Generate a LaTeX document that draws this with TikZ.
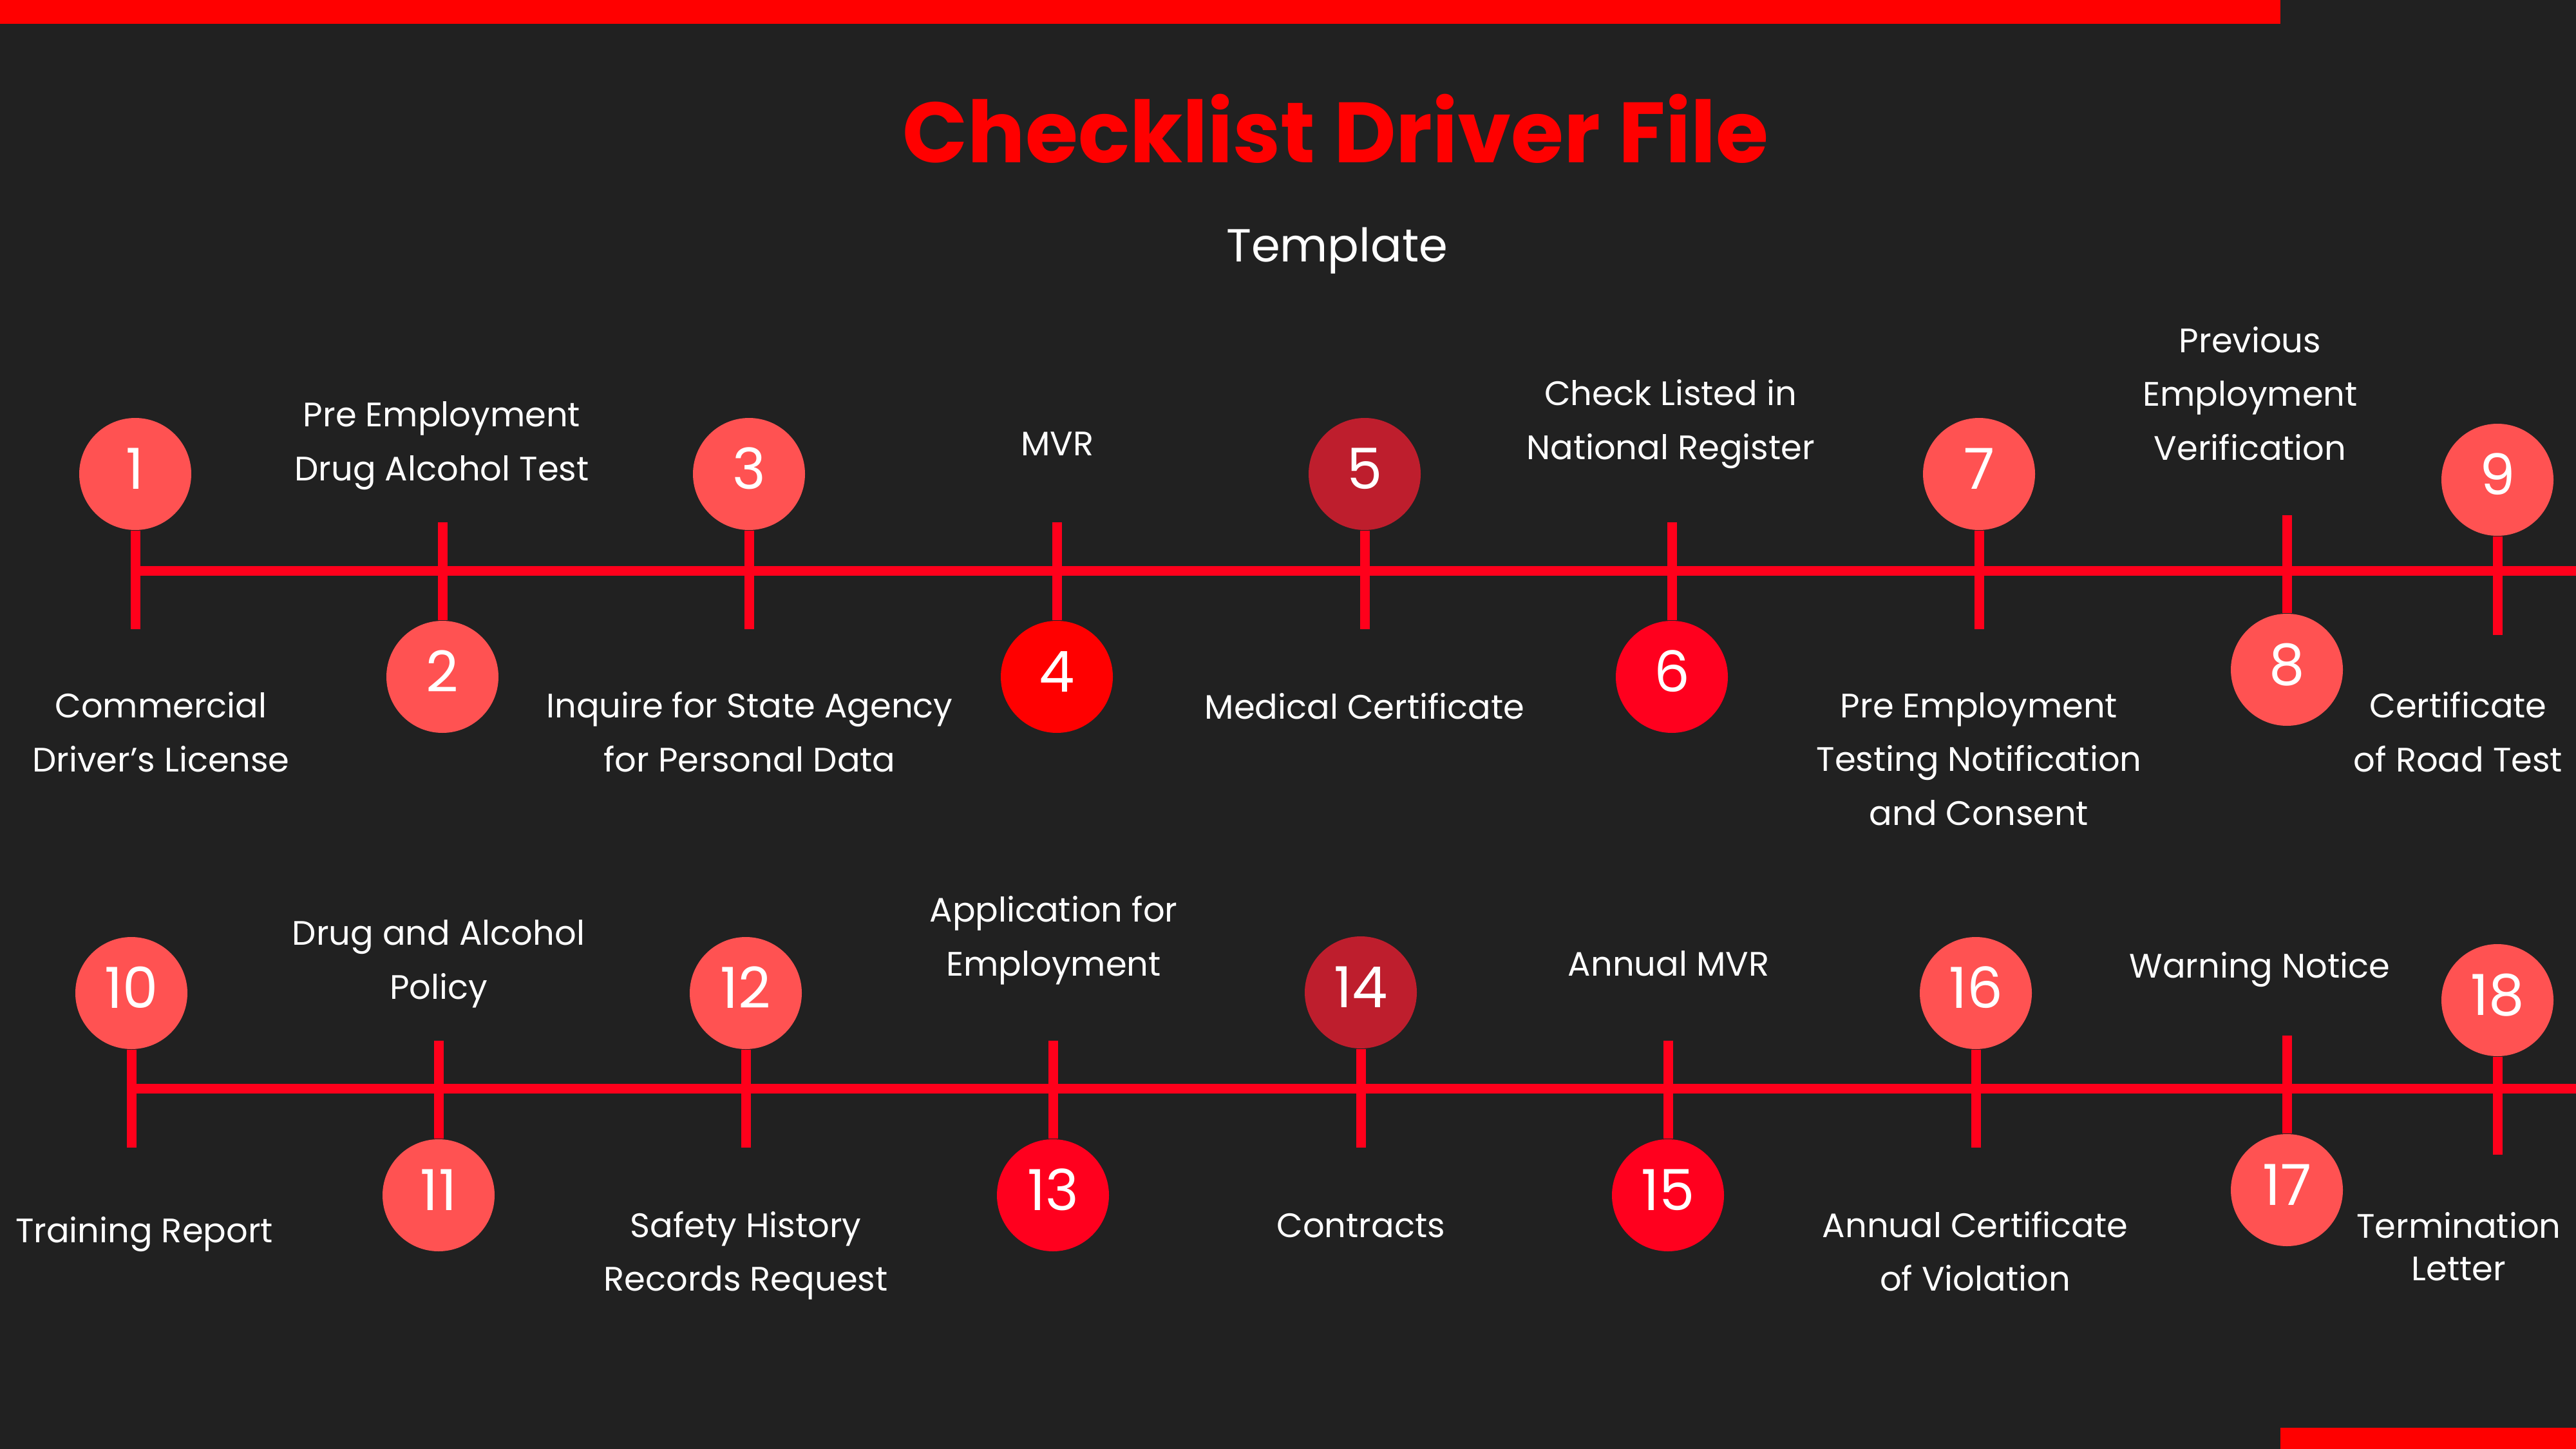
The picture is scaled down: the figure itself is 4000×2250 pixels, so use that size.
\documentclass[tikz,border=0pt]{standalone}
\usepackage{fontspec}
\setmainfont{Poppins}
\definecolor{bg}{HTML}{212121}
\definecolor{barred}{HTML}{FF0000}
\definecolor{lineRed}{HTML}{FF001B}
\definecolor{cLight}{HTML}{FF5252}
\definecolor{cDark}{HTML}{BE1E2D}
\definecolor{cPure}{HTML}{FF0000}
\definecolor{cVivid}{HTML}{FF001E}
\tikzset{
  dot/.style={circle, minimum size=17.4mm, inner sep=0pt, text=white,
    font=\fontsize{25pt}{30pt}\selectfont, text height=4.6mm, text depth=0pt},
  dotlight/.style={dot, fill=cLight},
  dotdark/.style={dot, fill=cDark},
  dotpure/.style={dot, fill=cPure},
  dotvivid/.style={dot, fill=cVivid},
  tickline/.style={draw=lineRed, line width=1.5mm},
  mainline/.style={draw=lineRed, line width=1.5mm},
  lbl/.style={anchor=base, align=center, text=white, inner sep=0pt,
    font=\fontsize{15pt}{23.62pt}\selectfont},
  lbltight/.style={lbl, font=\fontsize{15pt}{18.5pt}\selectfont},
}
\begin{document}
\begin{tikzpicture}[x=0.1mm,y=-0.1mm]
\path[use as bounding box, fill=bg] (0,0) rectangle (4000,2250);
% bars
\fill[barred] (0,0) rectangle (3541,37);
\fill[barred] (3541,2217) rectangle (4000,2250);
% titles
\node[anchor=base, text=barred, inner sep=0pt, font=\fontsize{37.8pt}{42pt}\selectfont\bfseries] (title) at (2074,253) {Checklist Driver File};
\node[anchor=base, text=white, inner sep=0pt, font=\fontsize{20.5pt}{24pt}\selectfont] (subtitle) at (2076,407) {Template};

% ---------- row 1 ----------
\coordinate (r1a) at (202.5,886);
\coordinate (r1b) at (4000,886);
\draw[mainline] (r1a) -- (r1b);

\node[dotlight] (c1) at (210,736) {1};
\node[dotlight] (c2) at (687,1051) {2};
\node[dotlight] (c3) at (1163,736) {3};
\node[dotpure]  (c4) at (1641,1051) {4};
\node[dotdark]  (c5) at (2119,736) {5};
\node[dotvivid] (c6) at (2596,1051) {6};
\node[dotlight] (c7) at (3073,736) {7};
\node[dotlight] (c8) at (3551,1040) {8};
\node[dotlight] (c9) at (3878,745) {9};

\coordinate (e1) at (210,977);
\coordinate (s2) at (687,811);
\coordinate (e3) at (1163,977);
\coordinate (s4) at (1641,811);
\coordinate (e5) at (2119,977);
\coordinate (s6) at (2596,811);
\coordinate (e7) at (3073,977);
\coordinate (s8) at (3551,800);
\coordinate (e9) at (3878,986);

\draw[tickline] (c1) -- (e1);
\draw[tickline] (s2) -- (c2);
\draw[tickline] (c3) -- (e3);
\draw[tickline] (s4) -- (c4);
\draw[tickline] (c5) -- (e5);
\draw[tickline] (s6) -- (c6);
\draw[tickline] (c7) -- (e7);
\draw[tickline] (s8) -- (c8);
\draw[tickline] (c9) -- (e9);

% anchor=base gives the baseline of the last line
\node[lbl] (t1) at (250,1198) {Commercial\\Driver’s License};
\node[lbl] (t2) at (686,746) {Pre Employment\\Drug Alcohol Test};
\node[lbl] (t3) at (1164,1198) {Inquire for State Agency\\for Personal Data};
\node[lbl] (t4) at (1642,707) {MVR};
\node[lbl] (t5) at (2119,1116) {Medical Certificate};
\node[lbl] (t6) at (2594,713) {Check Listed in\\National Register};
\node[lbl] (t7) at (3073,1281) {Pre Employment\\Testing Notification\\and Consent};
\node[lbl] (t8) at (3494,714) {Previous\\Employment\\Verification};
\node[lbl] (t9) at (3817,1198) {Certificate\\of Road Test};

% ---------- row 2 ----------
\coordinate (r2a) at (196.5,1690);
\coordinate (r2b) at (4000,1690);
\draw[mainline] (r2a) -- (r2b);

\node[dotlight] (c10) at (204,1542) {10};
\node[dotlight] (c11) at (681,1856) {11};
\node[dotlight] (c12) at (1158,1542) {12};
\node[dotvivid] (c13) at (1635,1856) {13};
\node[dotdark]  (c14) at (2113,1541) {14};
\node[dotvivid] (c15) at (2590,1856) {15};
\node[dotlight] (c16) at (3068,1542) {16};
\node[dotlight] (c17) at (3551,1848) {17};
\node[dotlight] (c18) at (3878,1553) {18};

\coordinate (e10) at (204,1782);
\coordinate (s11) at (681,1616);
\coordinate (e12) at (1158,1782);
\coordinate (s13) at (1635,1616);
\coordinate (e14) at (2113,1782);
\coordinate (s15) at (2590,1616);
\coordinate (e16) at (3068,1782);
\coordinate (s17) at (3551,1608);
\coordinate (e18) at (3878,1793);

\draw[tickline] (c10) -- (e10);
\draw[tickline] (s11) -- (c11);
\draw[tickline] (c12) -- (e12);
\draw[tickline] (s13) -- (c13);
\draw[tickline] (c14) -- (e14);
\draw[tickline] (s15) -- (c15);
\draw[tickline] (c16) -- (e16);
\draw[tickline] (s17) -- (c17);
\draw[tickline] (c18) -- (e18);

\node[lbl] (t10) at (224,1929) {Training Report};
\node[lbl] (t11) at (681,1551) {Drug and Alcohol\\Policy};
\node[lbl] (t12) at (1158,2004) {Safety History\\Records Request};
\node[lbl] (t13) at (1636,1515) {Application for\\Employment};
\node[lbl] (t14) at (2113,1921) {Contracts};
\node[lbl] (t15) at (2591,1515) {Annual MVR};
\node[lbl] (t16) at (3067,2004) {Annual Certificate\\of Violation};
\node[lbl] (t17) at (3509,1518) {Warning Notice};
\node[lbltight] (t18) at (3818,1988) {Termination\\Letter};
\end{tikzpicture}
\end{document}
